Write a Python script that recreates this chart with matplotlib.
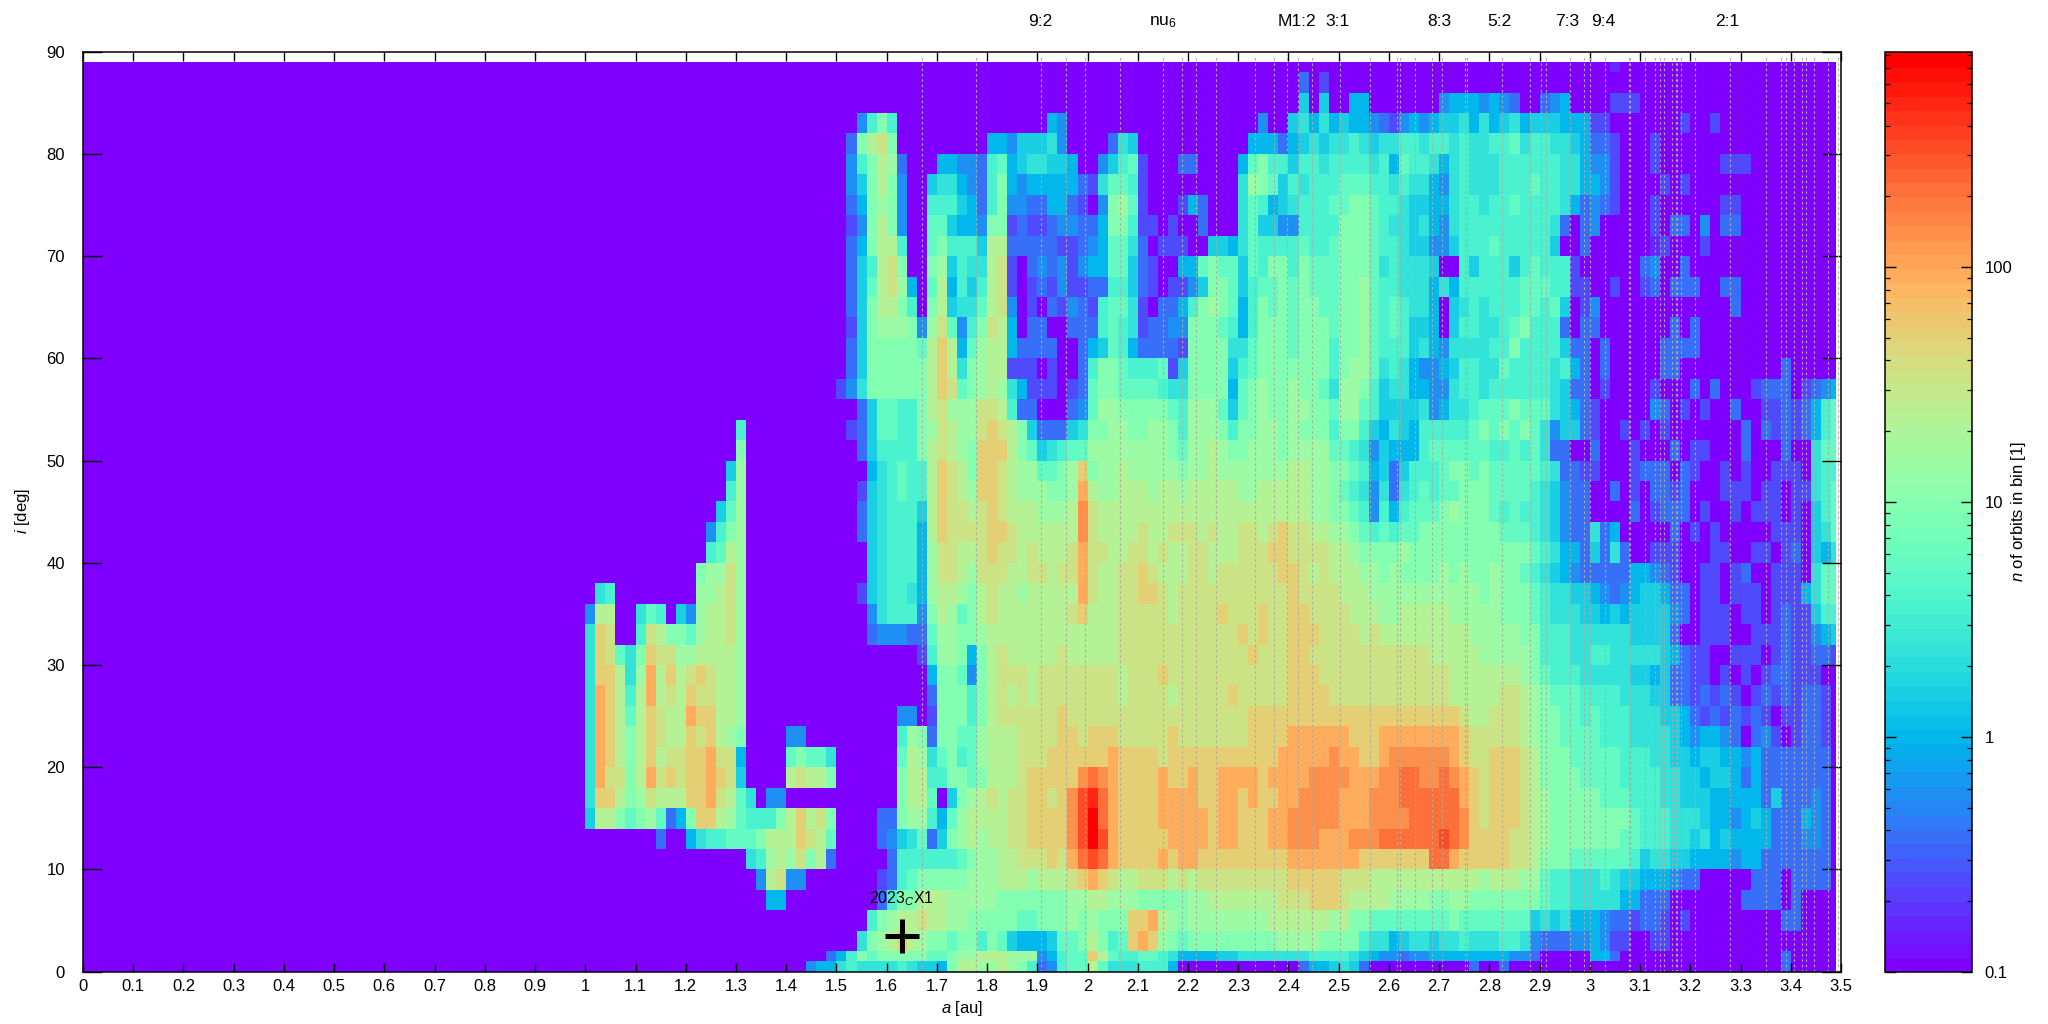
import numpy as np
import matplotlib
matplotlib.use("Agg")
import matplotlib.pyplot as plt
from matplotlib.colors import LogNorm
from matplotlib.ticker import FixedLocator, FuncFormatter, NullFormatter

plt.rcParams['font.family'] = ['Liberation Sans', 'DejaVu Sans']
plt.rcParams['mathtext.fontset'] = 'custom'
plt.rcParams['mathtext.rm'] = 'Liberation Sans'
plt.rcParams['mathtext.it'] = 'Liberation Sans:italic'
plt.rcParams['mathtext.bf'] = 'Liberation Sans:bold'

# Orbit density. Each row is one inclination bin, top to bottom.
# Each block holds five 0.02 au columns, starting at a = 1.00 au ('.' = empty block).
# A character is a position on the colour scale, 0 (lowest) to k (highest).
density_rows = [
". . . . . . . . . . . . . . . . . . . . 00100",
". . . . . . . . . . . . . . 03020",
". . . . . . . . . . . . . . 06060 05500 00000 45554 54300 34500 00222",
". . . . . 0048a 80000 . . 05400 . . . 00400 67575 65543 24545 66757 56756 66555 22000 00002 00200",
". . . . . 03acd a0000 . 55466 67400 00376 . . 05553 56767 78767 78878 87877 88978 87765 33200 02000",
". . . . . 048ac b3000 55443 89567 76650 04689 20003 30000 59a88 68878 88878 59887 57877 78888 88775 44200 02000 00022 20000",
". . . . . 046ac a4006 77543 8a545 55553 27998 20000 . 7ba96 87888 99988 78775 47877 78889 88775 54200 00202",
". . . . . 035ab a4008 88653 8a443 35532 04ab9 20002 53000 79856 78889 9aa98 87665 57887 88988 88753 43200 02000 00022",
". . . . . 024ac a4009 96554 aa232 23443 35aa8 22020 03000 79664 48888 aaa98 77675 47888 88888 87303 40000 02033 04033",
". . . . . 035ac c8009 a8886 cc333 33223 45997 30222 00665 79888 89889 aaa98 87664 46888 98888 86003 . 01200 02000",
". . . . . 0368c da00a b6877 cd203 43424 55996 32005 59a99 698aa 8a999 aaa97 87776 00868 88689 88820 . 34003",
". . . . . 0369c db509 c5868 cd202 32422 33886 32022 46aa9 6899a 9a999 aab98 87775 75888 88899 98822 00200 23033 30033",
". . . . . 036ac ca80a c6779 cd402 03243 28997 20335 8aba9 58a9a 9aa99 aab98 98775 06787 88899 89602 40000 . 00003",
". . . . . 026ab bba4b d948a dc503 30033 38987 23344 aaa98 58aaa 9aaa9 aab98 98665 06887 789a8 88303 30000 00030 30000",
". . . . . 036aa aaa9c ec59b cc533 33003 56985 33332 aaaa7 79aaa 9aaa8 aab98 88675 47777 88a88 88633 03000 00333 30000",
". . . . . 036aa aaaac ec7ab cc222 02003 8aa98 88926 aaaa6 89aaa aaaa8 abb97 87544 56887 79888 87853 03000 00330 . 00003",
". . . . . 247aa aaaac ed9ab cb752 22023 9aa99 99877 aaaa5 9abaa baa97 bba86 77554 47887 88888 87633 02000 02000 30300 02333 02345",
". . . . . 00369 988ac dbbbd dc833 00034 9bbaa aaa98 bbb96 9abaa bbaa9 bb986 66674 57789 99a99 97653 20000 04302 02003 00223 23589",
". . . 80000 . 02369 988ab dcbbd edca6 33367 aabba abba8 bbba8 aabba baaa8 aa865 76588 8889a 9a9a9 74663 20020 20200 . 30323 23589",
". . . a0000 . 00368 888ac dcbae eeca9 67899 bbbbb bbba9 bbcba abbba bbbb9 98746 55589 99999 88989 73300 30002 00030 22000 30003 00799",
". . 00006 b0000 . 00057 8988c edcae edcbb 99abe abbcb bbbba bbcbb bbbbb ccbba a9856 36888 9aa9a 99999 87332 20002 33303 20020 20022 20788",
". . 00008 b0000 . 00267 8988c edcbe edcbb baabf cbbcc cbccb ccccc bbccc ccbba 98747 37898 99aaa 99998 76433 00302 03323 00022 20220 22789",
". . 00069 b0000 . 00367 8886c eddcd edccc bbbcg dcccc ccccc ccccc ccccc ccbba a9848 58999 abaaa 98988 76433 00003 02333 02002 02220 20689",
". . 0048a b0000 . 00367 8885c edddd eedcc ccccg dcccc dccdd dcdcc ddcde ddccb ba989 899aa aaaaa a9998 76433 73500 00030 20200 00022 20679",
". . 0089c b0000 . 00067 8885b ddccd eddcd cccdf ddccd dcdcc ddccc dddee ddddc cbaaa abaaa aaaaa aaaa9 87553 63730 02220 00220 02202 30657",
". . 0abbd b0000 . 00067 8885b ddcbd ddccd dcddf dccdd edccc ddcdd dddde edcdc ccbba baaaa babaa baa98 76543 33335 54320 02202 30022 20799",
"07800 . 0bbcd b0000 . 00267 8875b ccbac dccbc ccccf dccdd eedcd ddddd ddddd edddd cccbb bbbbb bbbba baaa9 87766 54345 66533 02202 22022 25799",
"4cc00 79806 4bccd b0000 . 00047 8884a cb9ac dcccc cccde cccdd dddcd ddded ddedd eeddd dcccb bcccc cbbbb baaa9 87776 65656 66643 02220 22023 22688",
"7ed00 8dcaa 9bccd b0000 . 00034 44339 bbaab ccccc ccccc cccdd ddddd ddddd ededd eeedd ddcdc ccccc cccbb bbbaa 88877 77776 66630 02220 02223 22456",
"7ed97 aeddb bcccc b0000 . . 00028 bba5a cdccc ccdcc cccdd ddddd ddddd deddd eeddd ddddd ddddc ccccb bbbba 88877 88777 77653 22002 22023 22332",
"7eec7 bfcec dedcc b0000 . . 00005 aa94a cdddc ddddd dddcd ddedd ddddd ddddd eeedd ddddd ddddd dcccc cccba 98887 77776 65633 22020 20233 22200",
"7fec8 cfcdc eddcc b0000 . . 00003 aaa8a cdcdc ddddd dddcd dddcd dddde ddddd eeeed ddddd ddddd dcccc cddcb a9998 88877 76633 23232 02323 23320",
"7fec9 cedcc feecc b0000 . . 04402 aaa8a cdddd ddedd ddddd ddddd ddddd deeee eeeee eeeee eeeee eedcc dddcb aa998 98887 77665 32323 23202 23320",
"7feca cedcc edecb a0000 44000 . 08ba3 aa99b cccdd ddeed eeedd ddded ddddd deeee fffff feeef fffff ffedd dddcb aa999 98887 77765 45543 03420 23320",
"7feca cecdd eefdd 50000 9a997 . 09cb7 9a89b cccdd deeee eefee eedee eeeee eeeef ffffg ffeef ggggg gfedd eeedc aaa99 99988 87766 56655 45333 33330",
"7fdda cfded eefed 60000 cdcca . 0acc8 8aa9a cccde eeeeg hgfee eefee feeff ffeff ffggg gfffg ghhgg hgfed eeedc aaaa9 99988 88776 65665 35333 33330",
"7eeca bdccc eefdc 97044 . . 0acc9 06abc dcdde edegi jhfee eefff feeff efeef fgggg fffgg ghhhh hhfed eeedc baaaa a9998 88776 66555 55363 33430",
"6cca9 ab935 aeecb 9888a cecda 00003 3abb8 59bcc ccdde eeegi khfee eefff ffeff eeeff ggggg fffgg gghhh hhged eeedc baaaa aaaa9 88877 76554 56533 35430",
"00000 00300 57889 99acc cedc9 00003 46793 6abcb ccdde eeegi kifee eeeff ffeff eeeff gggff fgggh hhhhh ihgee eeddc baaaa aaa99 88877 67565 55533 34430",
". . . 078bc bdac3 . 38888 889ab bccdd dedfh ihfee eefef feeee eeeee fffff ffeee eeeeh hfeee eeddc aaa99 99998 67766 55554 55333 33330",
". . . 004cd 44000 00002 389aa aaabb bcccb cccde fedcc dddcd cdddd ddddd eeeee dddcc ccccc ccccb cccbb 98877 78766 55543 30000 03330 33330",
". . . 00055 . 00003 8aacc cbbbb baaaa aaabb ccbbb aaaaa bbccc ccccd ddeee dcccc bbbba abbaa aaaaa 98877 77755 33300 . 33330 30000",
". . . . . 0008a bccdc cbbaa aaa99 aaaba baaae efcba bbbbb bbbcc ccccb caa99 99999 9a999 99996 76755 54332 33202 . 00003 30000",
". . . . . 007ab cecba a9aa8 a9655 5699a ca89e feba9 aaaaa aaaab bbbaa aa877 56776 77877 78874 33344 54220 02200",
". . . . 00003 58a9a aaaa9 9abbc ccbbb 45899 ec988 99875 55566 77777 77888 87654 43445 55555 55443 . 55300 . . 00003",
". . . . 00455 78777 78766 5accb bcba8 34899 c9777 88850 . . 03556 76300 . 00030 03000 . . . . 00003",
]
level_chars = "0123456789abcdefghijk"

inclination_edges = [89, 88, 86, 84, 82, 80, 78, 76, 74, 72, 70, 68, 66, 64, 62, 60, 58, 56, 54, 52, 50,
                     48, 46, 44, 42, 40, 38, 36, 34, 32, 30, 28, 26, 24, 22, 20, 18, 16, 14, 12, 10,
                     8, 6, 4, 2, 1, 0]

# Planetary and mean-motion resonance positions, in au
resonances = [1.671, 1.778, 1.908, 1.9575, 1.995, 2.065, 2.151, 2.1885, 2.216, 2.256, 2.3325, 2.372,
              2.398, 2.4196, 2.4475, 2.502, 2.5614, 2.6162, 2.622, 2.651, 2.6866, 2.7066, 2.752,
              2.755, 2.826, 2.880, 2.9036, 2.912, 2.9596, 2.9875, 2.9995, 3.031, 3.0776, 3.0808,
              3.109, 3.1305, 3.14, 3.1485, 3.1628, 3.171, 3.174, 3.1822, 3.2101, 3.2797, 3.3514,
              3.381, 3.391, 3.4069, 3.4225, 3.431, 3.4453, 3.475, 3.4943]
top_labels = ["9:2", r"nu$_6$", "M1:2", "3:1", "8:3", "5:2", "7:3", "9:4", "2:1"]
top_label_a = [1.905, 2.150, 2.417, 2.497, 2.700, 2.820, 2.954, 3.026, 3.273]

object_a = [1.6305]
object_i = [3.52]
object_name = r"2023$_C$X1"

VMIN, VMAX = 0.1, 825.0
W, H = 2048, 1024

# ---- decode
N_COL = 125
rows = []
for r in density_rows:
    s = "".join("00000" if b == "." else b for b in r.split())
    s = s.ljust(N_COL, "0")[:N_COL]
    rows.append([VMIN * (VMAX / VMIN) ** (level_chars.index(c) / 20) for c in s])
Z = np.array(rows)
Z = np.hstack([np.full((Z.shape[0], 1), VMIN), Z])  # the empty stretch from 0 to 1 au
a_edges = np.array([0.0] + [1.0 + 0.02 * k for k in range(N_COL)] + [3.49])
i_edges = np.array(inclination_edges, dtype=float)

fig = plt.figure(figsize=(W / 100, H / 100), dpi=100, facecolor="white")
ax = fig.add_axes([83 / W, (H - 971.7) / H, (1841 - 83) / W, 920 / H])
cax = fig.add_axes([1885 / W, (H - 971.7) / H, (1972 - 1885) / W, 920 / H])

cmap = plt.get_cmap("rainbow", 64)
mesh = ax.pcolormesh(a_edges, i_edges, Z, cmap=cmap, norm=LogNorm(VMIN, VMAX),
                     shading="flat", linewidth=0, rasterized=True)

ax.vlines(resonances, 0, 89.7, colors="#b0aa9c", linewidth=0.8, linestyles=(0, (2.2, 2.6)), zorder=3)

ax.set_xlim(0, 3.5)
ax.set_ylim(0, 90)
ax.set_xticks(np.round(np.arange(0, 3.51, 0.1), 1))
ax.set_xticklabels([f"{v:g}" for v in np.round(np.arange(0, 3.51, 0.1), 1)])
ax.set_yticks(np.arange(0, 91, 10))
ax.tick_params(axis="x", which="major", direction="in", length=6.8, width=1.0, top=True, bottom=True,
               pad=5.5, labelsize=12)
ax.tick_params(axis="y", which="major", direction="in", length=14, width=1.0, left=True, right=True,
               pad=13, labelsize=12)
for sp in ax.spines.values():
    sp.set_linewidth(1.1)
    sp.set_zorder(5)

ax.plot(object_a, object_i, marker="+", ms=24.5, mew=3.6, color="black", ls="none", zorder=6)
ax.text(object_a[0], 7.1, object_name, ha="center", va="center", fontsize=11.5, color="black", zorder=6)

fig.text(962 / W, (H - 1009) / H, r"$a$ [au]", ha="center", va="center", fontsize=12)
fig.text(23 / W, (H - 511) / H, r"$i$ [deg]", ha="center", va="center", rotation=90, fontsize=12)

for lab, av in zip(top_labels, top_label_a):
    ax.text(av, (971.7 - 22) / 920, lab, transform=ax.get_xaxis_transform(), ha="center", va="center",
            fontsize=12.5, clip_on=False)

cb = fig.colorbar(mesh, cax=cax)
cb.outline.set_linewidth(1.1)
cb.solids.set_edgecolor("face")
major = [0.1, 1, 10, 100]
minor = [m * d for d in (0.1, 1, 10, 100) for m in range(2, 10) if m * d < VMAX]
cax.yaxis.set_major_locator(FixedLocator(major))
cax.yaxis.set_minor_locator(FixedLocator(minor))
cax.yaxis.set_major_formatter(FuncFormatter(lambda v, p: f"{v:g}"))
cax.yaxis.set_minor_formatter(NullFormatter())
cax.tick_params(axis="y", which="major", direction="in", length=7.6, width=1.0, left=True, right=True,
                pad=9, labelsize=12)
cax.tick_params(axis="y", which="minor", direction="in", length=3.9, width=0.9, left=True, right=True)
fig.text(2019 / W, (H - 511) / H, r"$n$ of orbits in bin [1]", ha="center", va="center", rotation=90, fontsize=12)

fig.savefig("out.png", dpi=100, facecolor="white")
